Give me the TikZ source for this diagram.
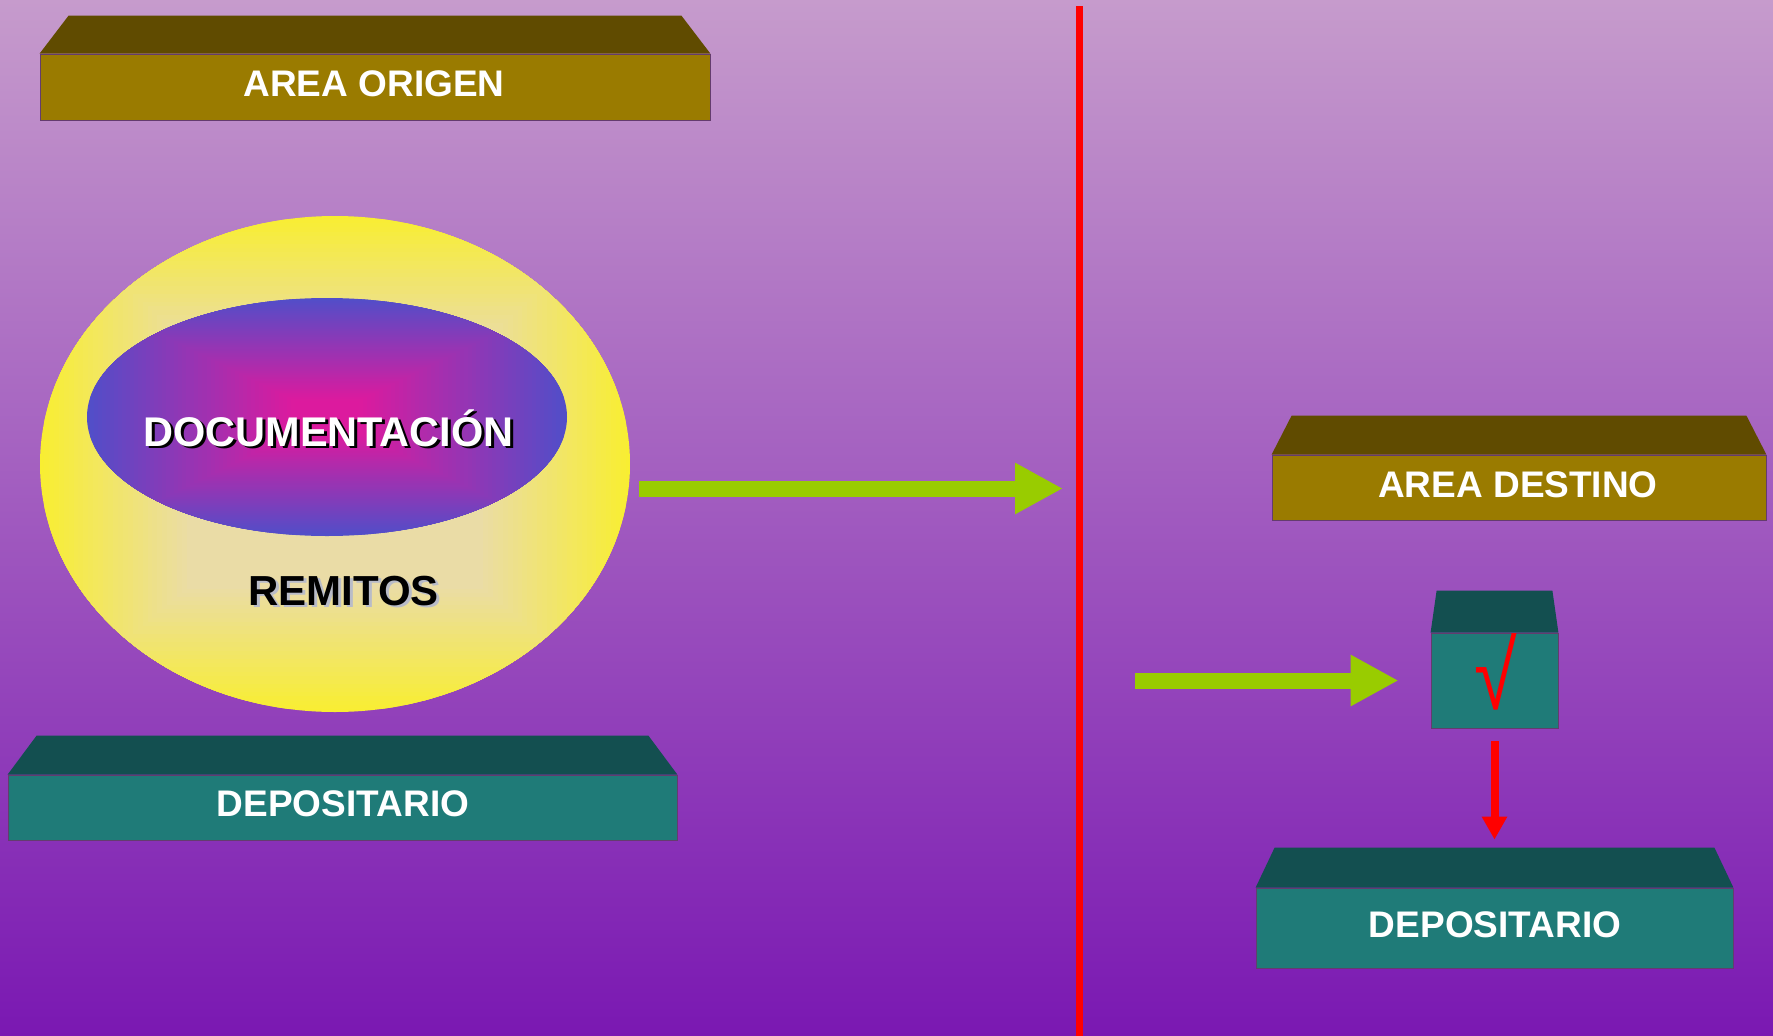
\documentclass[tikz,border=0pt]{standalone}
\usepackage{graphicx}
\usepackage{fontspec}
\setmainfont{Liberation Sans}
\usetikzlibrary{arrows.meta,shapes.geometric,calc}

\definecolor{bgtop}{RGB}{198,155,204}
\definecolor{bgbot}{RGB}{122,24,178}
\definecolor{goldfront}{RGB}{154,123,0}
\definecolor{goldtop}{RGB}{96,75,0}
\definecolor{tealfront}{RGB}{31,123,120}
\definecolor{tealtop}{RGB}{19,79,80}
\definecolor{edgecol}{RGB}{100,60,110}
\definecolor{arrowgreen}{RGB}{153,204,0}
\definecolor{ylwout}{RGB}{248,238,50}
\definecolor{ylwin}{RGB}{234,220,166}
\definecolor{docout}{RGB}{82,78,200}
\definecolor{docin}{RGB}{220,26,158}
\definecolor{remshadow}{RGB}{185,188,200}

\newcommand\labelfont{\fontsize{37}{42}\selectfont\bfseries}
\newcommand\docfont{\fontsize{41.5}{46}\selectfont\bfseries}
\newcommand\remfont{\fontsize{42}{46}\selectfont\bfseries}

% slanted top face of a flat box, drawn above the front face
\newcommand\boxtop[4]{%
  \fill[#4] (#1.north west) -- ++(#2,-#3) -- ($(#1.north east)+(-#2,-#3)$) -- (#1.north east) -- cycle;}

\tikzset{
  front/.style={draw=edgecol, line width=0.8pt, inner sep=0pt},
  goldbox/.style={front, fill=goldfront},
  tealbox/.style={front, fill=tealfront},
  boxlabel/.style={anchor=base, inner sep=0pt, text=white, font=\labelfont},
  greenarrow/.style={arrowgreen, line width=16pt,
    -{Triangle[length=48pt,width=48pt]}},
  redarrow/.style={red, line width=8pt,
    -{Triangle[length=23pt,width=24pt]}},
  divline/.style={red, line width=7pt},
}

\begin{document}
\begin{tikzpicture}[x=1pt,y=-1pt]
  \useasboundingbox (0,0) rectangle (1773,1036);
  \shade[top color=bgtop, bottom color=bgbot] (0,0) rectangle (1773,1036);

  % dividing line between origin and destination
  \coordinate (divtop) at (1079,6);
  \coordinate (divbot) at (1079,1036);
  \draw[divline] (divtop) -- (divbot);

  % ---- origin side ----
  \node[goldbox, minimum width=670pt, minimum height=66pt] (origen) at (375,87) {};
  \boxtop{origen}{29}{38}{goldtop}
  \node[boxlabel] (origenlabel) at (374,96) {AREA ORIGEN};

  \node[ellipse, minimum width=590pt, minimum height=496pt, inner sep=0pt,
        path picture={
          \begin{scope}[shift={(path picture bounding box.center)}]
            \foreach \i in {0,...,59}{
              \pgfmathsetmacro\f{1-\i/60}
              \pgfmathtruncatemacro\m{min(100,max(0,100*(1-\f)/0.5))}
              \fill[ylwin!\m!ylwout] (-296*\f,-249*\f) rectangle (296*\f,249*\f);
            }
          \end{scope}}] (remitos) at (335,464) {};

  \node[ellipse, minimum width=480pt, minimum height=238pt, inner sep=0pt,
        path picture={
          \begin{scope}[shift={(path picture bounding box.center)}]
            \foreach \i in {0,...,59}{
              \pgfmathsetmacro\f{1-\i/60}
              \pgfmathtruncatemacro\m{min(100,max(0,100*(1-\f)/0.85))}
              \fill[docin!\m!docout] (-241*\f,-120*\f) rectangle (241*\f,120*\f);
            }
          \end{scope}}] (docu) at (327,417) {};

  \node[anchor=base, inner sep=0pt, text=black, font=\docfont] (docshadow) at (331.5,448.5) {DOCUMENTACIÓN};
  \node[anchor=base, inner sep=0pt, text=white, font=\docfont] (doclabel) at (328.5,446) {DOCUMENTACIÓN};
  \node[anchor=base, inner sep=0pt, text=remshadow, font=\remfont] (remshad) at (346.5,607.5) {REMITOS};
  \node[anchor=base, inner sep=0pt, text=black, font=\remfont] (remlabel) at (343.5,605) {REMITOS};

  \node[tealbox, minimum width=669pt, minimum height=65pt] (depo1) at (342.5,807.5) {};
  \boxtop{depo1}{29}{39}{tealtop}
  \node[boxlabel] (depo1label) at (343,816) {DEPOSITARIO};

  \coordinate (sendstart) at (639,488.5);
  \coordinate (sendend) at (1063,488.5);
  \draw[greenarrow] (sendstart) -- (sendend);

  % ---- destination side ----
  \node[goldbox, minimum width=494pt, minimum height=65pt] (destino) at (1519,487.5) {};
  \boxtop{destino}{20}{39}{goldtop}
  \node[boxlabel] (destinolabel) at (1518,497) {AREA DESTINO};

  \node[tealbox, minimum width=127pt, minimum height=95pt] (check) at (1494.5,680.5) {};
  \boxtop{check}{6}{42}{tealtop}
  \node[text=red, font=\fontsize{80}{80}\selectfont, inner sep=0pt] (tick) at (1495.5,671.5) {\scalebox{0.97}[1.2]{√}};

  \node[tealbox, minimum width=477pt, minimum height=80pt] (depo2) at (1494.5,928) {};
  \boxtop{depo2}{19}{40}{tealtop}
  \node[boxlabel] (depo2label) at (1495,937) {DEPOSITARIO};

  \coordinate (arrivestart) at (1135,680.5);
  \draw[greenarrow, shorten >=32pt] (arrivestart) -- (check.west);
  \draw[redarrow, shorten <=13pt, shorten >=48pt] (check.south) -- (depo2.north);
\end{tikzpicture}
\end{document}
